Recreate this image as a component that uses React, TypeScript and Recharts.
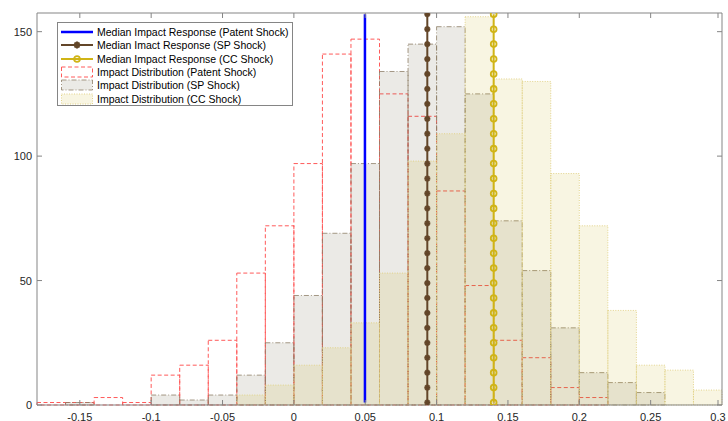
import React from 'react'
import { ComposedChart, XAxis, YAxis, Line, ReferenceArea } from 'recharts'

// left edges of the 0.02-wide bins
const binLeft = [
  -0.18, -0.16, -0.14, -0.12, -0.1, -0.08, -0.06, -0.04, -0.02, 0, 0.02, 0.04,
  0.06, 0.08, 0.1, 0.12, 0.14, 0.16, 0.18, 0.2, 0.22, 0.24, 0.26, 0.28,
]
const binWidth = 0.02

const patentCounts = [1, 1, 3, 1, 12, 16, 26, 53, 72, 97, 141, 147, 125, 116, 86, 48, 26, 19, 7, 3, 0, 0, 0, 0]
const spCounts = [0, 1, 0, 0, 4, 2, 4, 12, 25, 44, 69, 97, 134, 145, 152, 125, 74, 54, 31, 13, 9, 5, 0, 0]
const ccCounts = [0, 0, 0, 0, 0, 0, 0, 4, 8, 16, 23, 33, 53, 98, 109, 156, 131, 130, 93, 72, 38, 16, 14, 6]

const medianPatent = 0.0498
const medianSP = 0.0935
const medianCC = 0.14

const lineY = [1, 7, 13, 19, 25, 31, 37, 43, 49, 55, 61, 67, 73, 79, 85, 91, 97, 103, 109, 115, 121, 127, 133, 139, 145, 151, 157]

const xTicks = [-0.15, -0.1, -0.05, 0, 0.05, 0.1, 0.15, 0.2, 0.25, 0.3]
const yTicks = [0, 50, 100, 150]

const legendLabels = [
  'Median Impact Response (Patent Shock)',
  'Median Imact Response (SP Shock)',
  'Median Impact Response (CC Shock)',
  'Impact Distribution (Patent Shock)',
  'Impact Distribution (SP Shock)',
  'Impact Distribution (CC Shock)',
]

const FONT = '"Liberation Sans", Arial, Helvetica, sans-serif'
const AXIS = '#858585'
const TEXT = '#262626'
const BLUE = '#0000ff'
const BROWN = '#634629'
const GOLD = '#d0b416'
const RED = '#ff5a5a'

const lineData = (x: number) => lineY.map((y) => ({ x, y }))

function Asterisk({ cx, cy, r = 4 }: { cx?: number; cy?: number; r?: number }) {
  if (cx == null || cy == null) return null
  const d = r * 0.72
  return (
    <g stroke={BROWN} strokeWidth={2}>
      <line x1={cx - r} y1={cy} x2={cx + r} y2={cy} />
      <line x1={cx} y1={cy - r} x2={cx} y2={cy + r} />
      <line x1={cx - d} y1={cy - d} x2={cx + d} y2={cy + d} />
      <line x1={cx - d} y1={cy + d} x2={cx + d} y2={cy - d} />
    </g>
  )
}

function Ring({ cx, cy }: { cx?: number; cy?: number }) {
  if (cx == null || cy == null) return null
  return <circle cx={cx} cy={cy} r={2.9} fill="none" stroke={GOLD} strokeWidth={1.8} />
}

function BottomTick({ x, y, payload }: any) {
  return (
    <g>
      <line x1={x} y1={y} x2={x} y2={y - 5} stroke={AXIS} />
      <text x={x} y={y + 15.5} textAnchor="middle" fontSize={11} fill={TEXT} fontFamily={FONT}>
        {String(payload.value)}
      </text>
    </g>
  )
}

function TopTick({ x, y }: any) {
  return <line x1={x} y1={y} x2={x} y2={y + 5} stroke={AXIS} />
}

function LeftTick({ x, y, payload }: any) {
  return (
    <g>
      <line x1={x} y1={y} x2={x + 5} y2={y} stroke={AXIS} />
      <text x={x - 5} y={y + 4} textAnchor="end" fontSize={11} fill={TEXT} fontFamily={FONT}>
        {String(payload.value)}
      </text>
    </g>
  )
}

function RightTick({ x, y }: any) {
  return <line x1={x} y1={y} x2={x - 5} y2={y} stroke={AXIS} />
}

function LegendSymbol({ i }: { i: number }) {
  const w = 32
  const h = 12
  const c = h / 2
  if (i === 0) return <svg width={w} height={h}><line x1={0} y1={c} x2={w} y2={c} stroke={BLUE} strokeWidth={2.5} /></svg>
  if (i === 1)
    return (
      <svg width={w} height={h}>
        <line x1={0} y1={c} x2={w} y2={c} stroke={BROWN} strokeWidth={2} />
        <Asterisk cx={w / 2} cy={c} r={3.4} />
      </svg>
    )
  if (i === 2)
    return (
      <svg width={w} height={h}>
        <line x1={0} y1={c} x2={w} y2={c} stroke={GOLD} strokeWidth={2} />
        <Ring cx={w / 2} cy={c} />
      </svg>
    )
  const styles = [
    { fill: 'none', stroke: RED, dash: '4 2.5', op: 1 },
    { fill: 'rgba(100,90,60,0.13)', stroke: '#8f8068', dash: '5 2 1 2', op: 0.8 },
    { fill: 'rgba(200,170,20,0.12)', stroke: '#e2d38a', dash: '1 1.5', op: 1 },
  ][i - 3]
  return (
    <svg width={w} height={h}>
      <rect x={0.5} y={1} width={w - 1} height={10} fill={styles.fill} stroke={styles.stroke} strokeDasharray={styles.dash} strokeOpacity={styles.op} />
    </svg>
  )
}

export default function App() {
  return (
    <div style={{ position: 'absolute', left: 0, top: 0, width: 728, height: 421, background: '#fff', overflow: 'hidden' }}>
      <ComposedChart width={728} height={421} margin={{ top: 12, right: 5, bottom: 0, left: 0 }}>
        <XAxis
          type="number"
          dataKey="x"
          domain={[-0.18, 0.3]}
          allowDataOverflow
          ticks={xTicks}
          height={16}
          tickSize={0}
          tickMargin={0}
          stroke={AXIS}
          tick={<BottomTick />}
        />
        <XAxis
          xAxisId="top"
          orientation="top"
          type="number"
          dataKey="x"
          domain={[-0.18, 0.3]}
          allowDataOverflow
          ticks={xTicks}
          height={1}
          tickSize={0}
          tickMargin={0}
          stroke={AXIS}
          tick={<TopTick />}
        />
        <YAxis
          type="number"
          domain={[0, 157.5]}
          allowDataOverflow
          ticks={yTicks}
          width={37}
          tickSize={0}
          tickMargin={0}
          stroke={AXIS}
          tick={<LeftTick />}
        />
        <YAxis
          yAxisId="right"
          orientation="right"
          type="number"
          domain={[0, 157.5]}
          allowDataOverflow
          ticks={yTicks}
          width={1}
          tickSize={0}
          tickMargin={0}
          stroke={AXIS}
          tick={<RightTick />}
        />

        {binLeft.map((x, i) =>
          patentCounts[i] > 0 ? (
            <ReferenceArea
              key={`p${i}`}
              x1={x}
              x2={x + binWidth}
              y1={0}
              y2={patentCounts[i]}
              fill="none"
              fillOpacity={0}
              stroke={RED}
              strokeWidth={1}
              strokeDasharray="4 2.5"
              ifOverflow="visible"
            />
          ) : null
        )}
        {binLeft.map((x, i) =>
          spCounts[i] > 0 ? (
            <ReferenceArea
              key={`s${i}`}
              x1={x}
              x2={x + binWidth}
              y1={0}
              y2={spCounts[i]}
              fill="rgb(100,90,60)"
              fillOpacity={0.13}
              stroke="#8f8068"
              strokeOpacity={0.8}
              strokeWidth={1}
              strokeDasharray="5 2 1 2"
              ifOverflow="visible"
            />
          ) : null
        )}
        {binLeft.map((x, i) =>
          ccCounts[i] > 0 ? (
            <ReferenceArea
              key={`c${i}`}
              x1={x}
              x2={x + binWidth}
              y1={0}
              y2={ccCounts[i]}
              fill="rgb(200,170,20)"
              fillOpacity={0.12}
              stroke="#e2d38a"
              strokeWidth={1}
              strokeDasharray="1 1.5"
              ifOverflow="visible"
            />
          ) : null
        )}

        <Line data={lineData(medianPatent)} dataKey="y" stroke={BLUE} strokeWidth={2.5} dot={false} isAnimationActive={false} />
        <Line data={lineData(medianSP)} dataKey="y" stroke={BROWN} strokeWidth={2} dot={<Asterisk />} isAnimationActive={false} />
        <Line data={lineData(medianCC)} dataKey="y" stroke={GOLD} strokeWidth={2} dot={<Ring />} isAnimationActive={false} />
        {/* dummy series so the top / right axes get drawn */}
        <Line xAxisId="top" yAxisId="right" data={lineData(medianCC)} dataKey="y" stroke="none" dot={false} isAnimationActive={false} />
      </ComposedChart>

      <div
        style={{
          position: 'absolute',
          left: 57,
          top: 22,
          width: 236,
          height: 84,
          border: `1px solid ${AXIS}`,
          background: '#fff',
          boxSizing: 'border-box',
          fontFamily: FONT,
          fontSize: 10.5,
          color: '#000',
        }}
      >
        {legendLabels.map((label, i) => (
          <div key={label} style={{ position: 'absolute', left: 3, top: 2.5 + i * 13.3, height: 13, display: 'flex', alignItems: 'center', whiteSpace: 'nowrap' }}>
            <LegendSymbol i={i} />
            <span style={{ marginLeft: 4 }}>{label}</span>
          </div>
        ))}
      </div>
    </div>
  )
}
